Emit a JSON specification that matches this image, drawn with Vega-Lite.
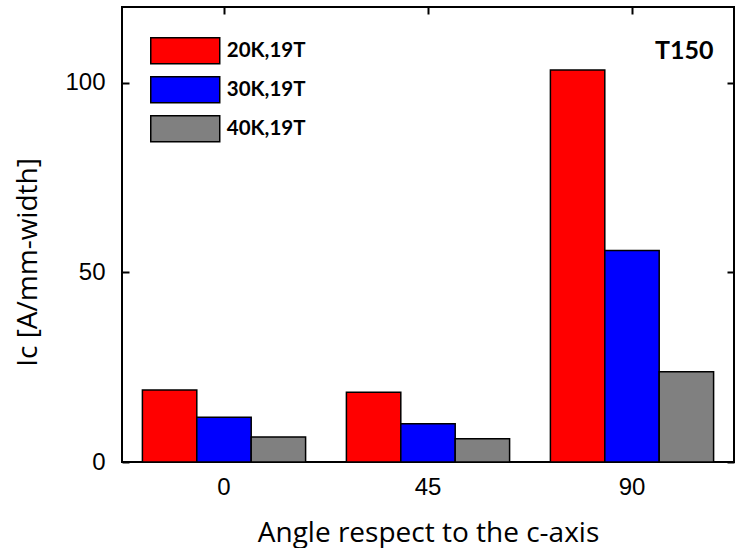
{
  "$schema": "https://vega.github.io/schema/vega-lite/v6.json",
  "width": 612,
  "height": 455,
  "autosize": {"type": "none"},
  "padding": {"left": 122, "top": 7, "right": 8, "bottom": 86},
  "background": "white",
  "config": {
    "view": {"stroke": "black", "strokeWidth": 2},
    "axis": {"grid": false, "domain": false, "ticks": true, "zindex": 1, "tickColor": "black", "tickWidth": 2, "tickSize": 7, "offset": -7,
      "labelFont": "Liberation Sans", "labelFontSize": 24, "labelColor": "black",
      "titleFont": "Open Sans", "titleFontSize": 28, "titleFontWeight": "normal", "titleColor": "black"}
  },
  "data": {"values": [
    {"angle": "0", "series": "20K,19T", "value": 19.0},
    {"angle": "0", "series": "30K,19T", "value": 11.8},
    {"angle": "0", "series": "40K,19T", "value": 6.6},
    {"angle": "45", "series": "20K,19T", "value": 18.4},
    {"angle": "45", "series": "30K,19T", "value": 10.1},
    {"angle": "45", "series": "40K,19T", "value": 6.1},
    {"angle": "90", "series": "20K,19T", "value": 103.4},
    {"angle": "90", "series": "30K,19T", "value": 55.8},
    {"angle": "90", "series": "40K,19T", "value": 23.8}
  ]},
  "resolve": {"axis": {"x": "independent", "y": "independent"}},
  "layer": [
    {
      "mark": {"type": "bar", "stroke": "black", "strokeWidth": 1.5},
      "encoding": {
        "x": {"field": "angle", "type": "nominal", "sort": ["0", "45", "90"],
          "scale": {"paddingInner": 0.2, "paddingOuter": 0.1},
          "axis": {"orient": "bottom", "ticks": true, "labelAngle": 0, "labelPadding": 13, "title": "Angle respect to the c-axis",
            "titlePadding": 20}},
        "xOffset": {"field": "series", "type": "nominal", "scale": {"paddingInner": 0, "paddingOuter": 0}},
        "y": {"field": "value", "type": "quantitative", "scale": {"domain": [0, 120], "nice": false},
          "axis": {"orient": "left", "values": [0, 50, 100], "labelPadding": 17, "title": "Ic [A/mm-width]", "titlePadding": 22, "titleY": 255}},
        "color": {"field": "series", "type": "nominal",
          "scale": {"domain": ["20K,19T", "30K,19T", "40K,19T"], "range": ["#ff0000", "#0000ff", "#808080"]},
          "legend": {"orient": "none", "legendX": 45.25, "legendY": 25.75, "title": null, "padding": 0,
            "symbolType": "M-2,-0.754H2V0.754H-2Z", "symbolSize": 1190, "symbolStrokeColor": "black", "symbolStrokeWidth": 1.5,
            "symbolOpacity": 1, "labelFont": "Lato", "labelFontSize": 20.5, "labelFontWeight": "bold", "labelColor": "black",
            "labelOffset": 23.5, "rowPadding": 4}}
      }
    },
    {
      "mark": {"type": "bar", "opacity": 0},
      "encoding": {
        "x": {"field": "angle", "type": "nominal", "sort": ["0", "45", "90"],
          "axis": {"orient": "top", "labels": false, "title": null}},
        "y": {"field": "value", "type": "quantitative",
          "axis": {"orient": "right", "values": [0, 50, 100], "labels": false, "title": null}}
      }
    },
    {
      "data": {"values": [{"label": "T150", "angle": "90", "pos": 108.5}]},
      "mark": {"type": "text", "font": "Lato", "fontSize": 25, "fontWeight": "bold", "color": "black", "align": "right", "baseline": "middle"},
      "encoding": {
        "x": {"field": "angle", "type": "nominal", "bandPosition": 1, "axis": null},
        "y": {"field": "pos", "type": "quantitative", "axis": null},
        "text": {"field": "label"}
      }
    }
  ]
}
